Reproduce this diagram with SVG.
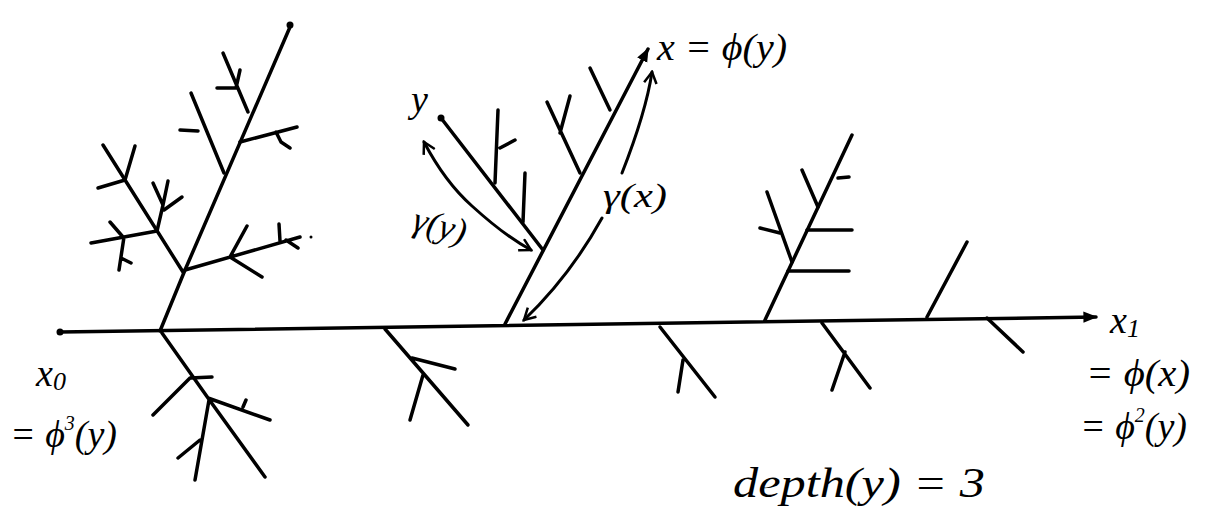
<svg xmlns="http://www.w3.org/2000/svg" width="1216" height="515" viewBox="0 0 1216 515">
<defs>
<style>
.ln{stroke:#000;stroke-width:3.5;stroke-linecap:round;stroke-linejoin:round;fill:none}
.cv{stroke:#000;stroke-width:3;stroke-linecap:round;fill:none}
.lbl{font-family:"Liberation Serif","DejaVu Serif",serif;font-style:italic;fill:#000}
.dot{fill:#000}
</style>
<marker id="solid" viewBox="0 0 10 10" refX="9" refY="5" markerWidth="4" markerHeight="4" orient="auto" markerUnits="strokeWidth">
<path d="M0,1 L10,5 L0,9 z" fill="#000"/>
</marker>
<marker id="open" viewBox="0 0 12 12" refX="10" refY="6" markerWidth="5" markerHeight="5" orient="auto" markerUnits="strokeWidth">
<path d="M1,1 L10,6 L1,11" fill="none" stroke="#000" stroke-width="2"/>
</marker>
<marker id="openStart" viewBox="0 0 12 12" refX="2" refY="6" markerWidth="5" markerHeight="5" orient="auto" markerUnits="strokeWidth">
<path d="M11,1 L2,6 L11,11" fill="none" stroke="#000" stroke-width="2"/>
</marker>
</defs>
<rect width="1216" height="515" fill="#fff"/>

<g id="connectors">
<path id="main-axis" class="ln" d="M60,332 L1096,317" marker-end="url(#solid)"/>
<path id="x-branch" class="ln" d="M505,324 L648,49" marker-end="url(#solid)"/>
<path id="y-branch" class="ln" d="M543,250 L441,118"/>
<path id="gamma-y" class="cv" d="M424,142 Q445,182 472,206 Q505,236 531,250" marker-start="url(#openStart)" marker-end="url(#open)"/>
<path id="gamma-x-up" class="cv" d="M622,173 Q646,112 652,72" marker-end="url(#open)"/>
<path id="gamma-x-down" class="cv" d="M602,218 Q570,276 524,320" marker-end="url(#open)"/>
</g>

<g id="x0-node">
<circle class="dot" cx="60" cy="332" r="3.5"/>
</g>
<g id="y-node">
<circle class="dot" cx="441" cy="118" r="3.5"/>
</g>

<g id="left-tree">
<path class="ln" d="M160,331 L185,270 L290,27"/>
<circle class="dot" cx="290" cy="25" r="3.5"/>
<path class="ln" d="M185,270 L300,237 M230,257 L247,226 M230,257 L262,277 M280,241 L279,224 M286,240 L298,248"/>
<circle class="dot" cx="311" cy="237" r="1.5"/>
<path class="ln" d="M183,272 L103,145 M157,231 L91,243 M123,237 L110,222 M124,237 L119,270 M121,258 L131,263"/>
<path class="ln" d="M157,231 L163,205 L153,183 M163,205 L168,181 M164,210 L182,197"/>
<path class="ln" d="M125,180 L98,188 M125,180 L135,146"/>
<path class="ln" d="M224,173 L191,93 M198,131 L180,130"/>
<path class="ln" d="M240,142 L297,127 M276,132 L281,142 L290,148"/>
<path class="ln" d="M248,112 L223,53 M236,88 L217,88 M236,88 L240,70"/>
<path class="ln" d="M162,333 L208,398 L265,477 M190,378 L153,415 M190,378 L212,377 M208,398 L270,420 M243,407 L246,400 M209,400 L195,480 M200,440 L178,458"/>
</g>

<g id="middle-tree">
<path class="ln" d="M580,173 L547,102 M560,133 L570,96 M610,110 L590,68"/>
<path class="ln" d="M495,183 L498,110 M500,148 L515,140 M523,222 L525,173"/>
<path class="ln" d="M385,329 L468,425 M412,358 L455,369 M423,375 L410,420"/>
<path class="ln" d="M660,327 L715,397 M683,360 L678,392"/>
</g>

<g id="right-tree">
<path class="ln" d="M765,320 L852,135"/>
<path class="ln" d="M788,271 L849,271 M792,262 L767,192 M780,233 L760,228 M807,230 L852,230 M818,207 L802,170 M838,178 L849,177"/>
<path class="ln" d="M927,317 L967,242 M987,318 L1023,352 M822,323 L870,388 M845,352 L832,390"/>
</g>

<g id="labels">
<text class="lbl" x="411" y="112" font-size="38">y</text>
<text class="lbl" x="657" y="60" font-size="38" textLength="130" lengthAdjust="spacingAndGlyphs">x = ϕ(y)</text>
<text class="lbl" x="603" y="207" font-size="34" textLength="64" lengthAdjust="spacingAndGlyphs">γ(x)</text>
<text class="lbl" x="0" y="0" font-size="36" textLength="54" lengthAdjust="spacingAndGlyphs" transform="translate(411,230) rotate(15)">γ(y)</text>
<text class="lbl" x="36" y="386" font-size="38">x<tspan font-size="26" dy="4">0</tspan></text>
<text class="lbl" x="10" y="447" font-size="38">= ϕ<tspan font-size="20" dy="-17">3</tspan><tspan dy="17">(y)</tspan></text>
<text class="lbl" x="1110" y="333" font-size="38">x<tspan font-size="26" dy="4">1</tspan></text>
<text class="lbl" x="1086" y="386" font-size="38" textLength="104" lengthAdjust="spacingAndGlyphs">= ϕ(x)</text>
<text class="lbl" x="1080" y="439" font-size="38">= ϕ<tspan font-size="20" dy="-17">2</tspan><tspan dy="17">(y)</tspan></text>
<text class="lbl" x="733" y="497" font-size="42" textLength="252" lengthAdjust="spacingAndGlyphs">depth(y) = 3</text>
</g>
</svg>
